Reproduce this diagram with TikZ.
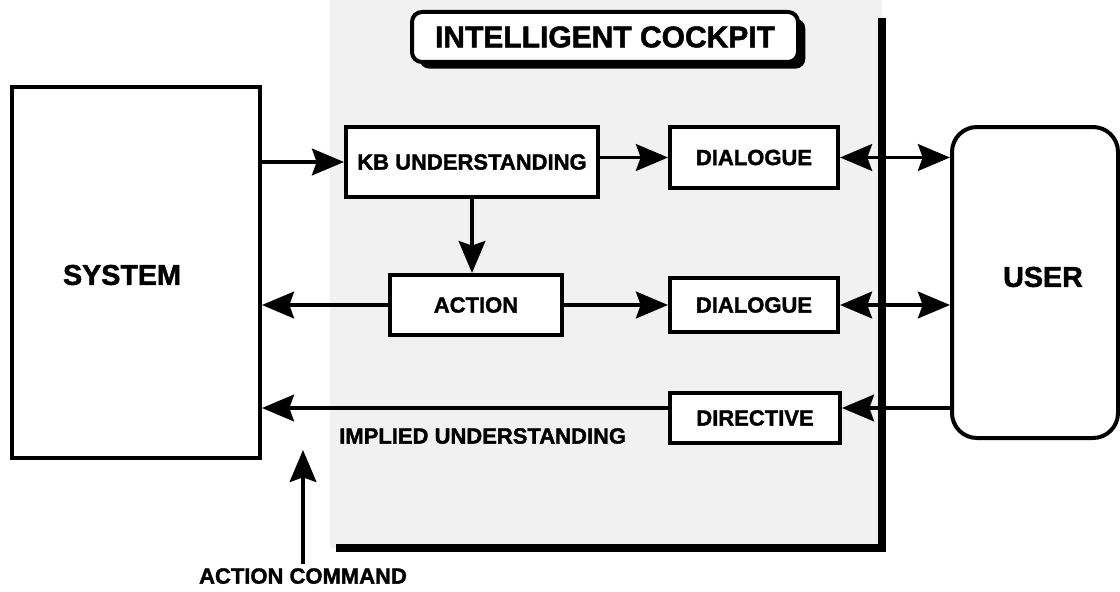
\documentclass[tikz,border=0pt]{standalone}
\usepackage{fontspec}
\setmainfont{Liberation Sans}[BoldFeatures={FakeBold=1.6}]
\usetikzlibrary{arrows.meta,shadows,calc}
\tikzset{
  px/.style={x=0.75pt,y=-0.75pt},
  blk/.style={draw=black,line width=3pt,fill=white,inner sep=0pt,font=\fontsize{16.5}{19}\selectfont\bfseries},
  bigtxt/.style={font=\fontsize{21.5}{25}\selectfont\bfseries},
  midtxt/.style={font=\fontsize{16.5}{19}\selectfont\bfseries},
  tip/.tip={Stealth[length=24pt,width=20pt,inset=3.5pt]},
  arr/.style={line width=2.8pt,-tip},
  darr/.style={line width=2.8pt,tip-tip},
}
\begin{document}
\begin{tikzpicture}[px]
\useasboundingbox (0,0) rectangle (1120,592);
\fill[white] (0,0) rectangle (1120,592);
% cockpit shaded region
\fill[gray!11] (330,0) rectangle (882,548);
\draw[line width=6pt,line cap=butt,line join=miter] (336,548) -- (882,548) -- (882,18);
% title
\node[draw=black,line width=3pt,fill=white,rounded corners=7.5pt,minimum width=289.5pt,minimum height=37.5pt,
  drop shadow={shadow xshift=5.5pt,shadow yshift=-5pt,fill=black,opacity=1},font=\fontsize{22.5}{26}\selectfont\bfseries] (title) at (605,37) {INTELLIGENT COCKPIT};
% main boxes
\node[blk,minimum width=186pt,minimum height=278.25pt] (sys) at (136,272.5) {};
\node[bigtxt,inner sep=0pt] (syslabel) at (122,275) {SYSTEM};
\node[blk,rounded corners=18.75pt,minimum width=124.5pt,minimum height=233.25pt] (user) at (1035,282.5) {};
\node[bigtxt,inner sep=0pt] (userlabel) at (1043,277) {USER};
\node[blk,minimum width=189pt,minimum height=52.5pt] (kb) at (472,162) {KB UNDERSTANDING};
\node[blk,minimum width=126pt,minimum height=45.75pt] (d1) at (754,157.5) {DIALOGUE};
\node[blk,minimum width=129pt,minimum height=45pt] (act) at (476,305) {ACTION};
\node[blk,minimum width=126pt,minimum height=40.5pt] (d2) at (754,305) {DIALOGUE};
\node[blk,minimum width=127.5pt,minimum height=37.5pt] (dir) at (755,418) {DIRECTIVE};
% labels
\node[midtxt,anchor=west,inner sep=0pt] (impl) at (339,436) {IMPLIED UNDERSTANDING};
\node[midtxt,anchor=north,inner sep=0pt] (ac) at (303,568) {ACTION COMMAND};
\coordinate (actip) at (303,450);
\coordinate (dirin) at ($(dir.east)+(0,-10)$);
\coordinate (dirout) at ($(dir.west)+(0,-10)$);
% connectors
\draw[arr] (kb.west -| sys.east) -- (kb.west);
\draw[arr] (kb.east |- d1.west) -- (d1.west);
\draw[arr] (kb.south) -- (kb.south |- act.north);
\draw[arr] (act.west) -- (act.west -| sys.east);
\draw[arr] (act.east) -- (d2.west);
\draw[darr] (d1.east) -- (d1.east -| user.west);
\draw[darr] (d2.east) -- (d2.east -| user.west);
\draw[arr] (dirin -| user.west) -- (dirin);
\draw[arr] (dirout) -- (dirout -| sys.east);
\draw[arr] ([yshift=3pt]ac.north) -- (actip);
\end{tikzpicture}
\end{document}
